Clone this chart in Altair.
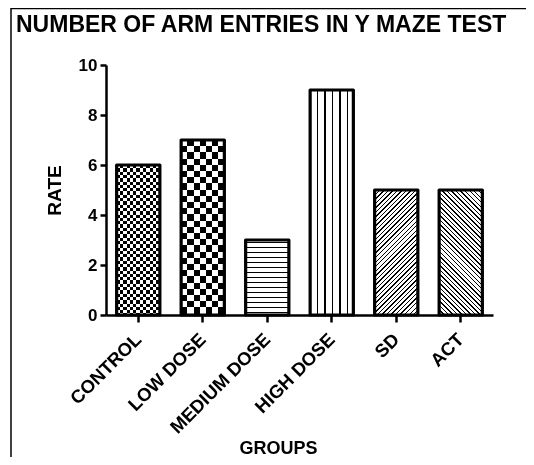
import math
import altair as alt
import pandas as pd

# ---- data -------------------------------------------------------------
groups = ["CONTROL", "LOW DOSE", "MEDIUM DOSE", "HIGH DOSE", "SD", "ACT"]
rates = [6, 7, 3, 9, 5, 5]
y_ticks = [0, 2, 4, 6, 8, 10]
TITLE = "NUMBER OF ARM ENTRIES IN Y MAZE TEST"
X_TITLE = "GROUPS"
Y_TITLE = "RATE"

df = pd.DataFrame({"group": groups, "rate": rates})

# ---- layout constants -------------------------------------------------
FONT = "Liberation Sans"
PLOT_W, PLOT_H = 387, 250
Y_MAX = 10
P_INNER, P_OUTER = 0.33, 0.165
STEP = PLOT_W / (len(groups) - P_INNER + 2 * P_OUTER)
BAR_W = STEP * (1 - P_INNER)
PX_PER_UNIT = PLOT_H / Y_MAX
BLACK, WHITE, CLEAR = "#000000", "#ffffff", "rgba(255,255,255,0)"


def stripe_stops(length, period, dark, phase=0.0, dark_col=BLACK, light_col=WHITE):
    stops = []
    pos = -phase
    while pos < length:
        for seg, col in ((dark, dark_col), (period - dark, light_col)):
            a, b = max(pos, 0.0), min(pos + seg, length)
            if b > a:
                stops.append(alt.GradientStop(offset=round(a / length, 5), color=col))
                stops.append(alt.GradientStop(offset=round(b / length, 5), color=col))
            pos += seg
    return stops


def vgrad(stops):  # varies along y -> horizontal stripes
    return alt.LinearGradient(gradient="linear", x1=0, y1=0, x2=0, y2=1, stops=stops)


def hgrad(stops):  # varies along x -> vertical stripes
    return alt.LinearGradient(gradient="linear", x1=0, y1=0, x2=1, y2=0, stops=stops)


def diag(h, period, dark, rising=True):
    w = BAR_W
    k = (w + h) / (w * w + h * h)
    L = (w + h) / math.sqrt(2)
    st = stripe_stops(L, period, dark)
    if rising:
        return alt.LinearGradient(gradient="linear", x1=0, y1=0, x2=k * w, y2=k * h, stops=st)
    return alt.LinearGradient(gradient="linear", x1=0, y1=1, x2=k * w, y2=1 - k * h, stops=st)


H = {g: r * PX_PER_UNIT for g, r in zip(groups, rates)}

base_fill = {
    "CONTROL": vgrad(stripe_stops(H["CONTROL"], 6.6, 3.3)),
    "LOW DOSE": vgrad(stripe_stops(H["LOW DOSE"], 12.4, 6.2)),
    "MEDIUM DOSE": vgrad(stripe_stops(H["MEDIUM DOSE"], 5.0, 1.3, phase=3.0)),
    "HIGH DOSE": hgrad(stripe_stops(BAR_W, 7.5, 1.5, phase=0.75)),
    "SD": diag(H["SD"], 3.2, 1.0, rising=True),
    "ACT": diag(H["ACT"], 3.2, 1.0, rising=False),
}
overlay_fill = {
    "CONTROL": hgrad(stripe_stops(BAR_W, 6.6, 3.3, dark_col=WHITE, light_col=CLEAR)),
    "LOW DOSE": hgrad(stripe_stops(BAR_W, 12.4, 6.2, dark_col=WHITE, light_col=CLEAR)),
}

x_enc = alt.X(
    "group:N",
    sort=groups,
    scale=alt.Scale(domain=groups, paddingInner=P_INNER, paddingOuter=P_OUTER),
    axis=alt.Axis(
        title=X_TITLE, labelAngle=315, labelAlign="right", labelBaseline="middle",
        labelPadding=14, labelFont=FONT, labelFontSize=18.5, labelFontWeight="bold",
        labelColor=BLACK, labelLimit=300,
        tickSize=7, tickWidth=2.5, tickColor=BLACK,
        domainWidth=2.5, domainColor=BLACK,
        titleFont=FONT, titleFontSize=18, titleFontWeight="bold", titleColor=BLACK,
        titleX=172, titleY=138, titleAlign="center", titleBaseline="alphabetic",
    ),
)
y_enc = alt.Y(
    "rate:Q",
    scale=alt.Scale(domain=[0, Y_MAX], nice=False),
    axis=alt.Axis(
        title=Y_TITLE, values=y_ticks, grid=False,
        labelFont=FONT, labelFontSize=17, labelFontWeight="bold", labelColor=BLACK,
        labelPadding=3,
        tickSize=6, tickWidth=2.5, tickColor=BLACK,
        domainWidth=2.5, domainColor=BLACK,
        titleFont=FONT, titleFontSize=19, titleFontWeight="bold", titleColor=BLACK,
        titleAngle=270, titleX=-46, titleY=125, titleAlign="center",
        titleBaseline="alphabetic",
    ),
)

base = alt.Chart(df)
layers = []
for g in groups:
    layers.append(
        base.transform_filter(alt.datum.group == g)
        .mark_bar(fill=base_fill[g], strokeWidth=0)
        .encode(x=x_enc, y=y_enc)
    )
for g, grad in overlay_fill.items():
    layers.append(
        base.transform_filter(alt.datum.group == g)
        .mark_bar(fill=grad, strokeWidth=0, blend="difference")
        .encode(x=x_enc, y=y_enc)
    )
layers.append(
    base.mark_bar(fillOpacity=0, stroke=BLACK, strokeWidth=3.2, strokeJoin="round")
    .encode(x=x_enc, y=y_enc)
)

title_layer = alt.Chart(pd.DataFrame({"t": [TITLE]})).mark_text(
    align="left", baseline="alphabetic", font=FONT, fontSize=23,
    fontWeight="bold", color=BLACK,
).encode(x=alt.value(-90), y=alt.value(-33), text="t:N")

frame_df = pd.DataFrame({"f": [0]})
frame_top = alt.Chart(frame_df).mark_rule(color=BLACK, strokeWidth=1.5).encode(
    x=alt.value(-95), x2=alt.value(430), y=alt.value(-56.5)
)
frame_left = alt.Chart(frame_df).mark_rule(color=BLACK, strokeWidth=1.5).encode(
    x=alt.value(-95), y=alt.value(-57), y2=alt.value(400)
)

chart = (
    alt.layer(*layers, title_layer, frame_top, frame_left)
    .properties(
        width=PLOT_W,
        height=PLOT_H,
        padding={"left": 98, "top": 57, "right": 33, "bottom": 142},
        autosize=alt.AutoSizeParams(type="none"),
    )
    .configure(background="white", font=FONT)
    .configure_view(stroke="transparent", strokeWidth=0)
)

chart.save("out.html", embed_options={"renderer": "svg", "actions": False})
